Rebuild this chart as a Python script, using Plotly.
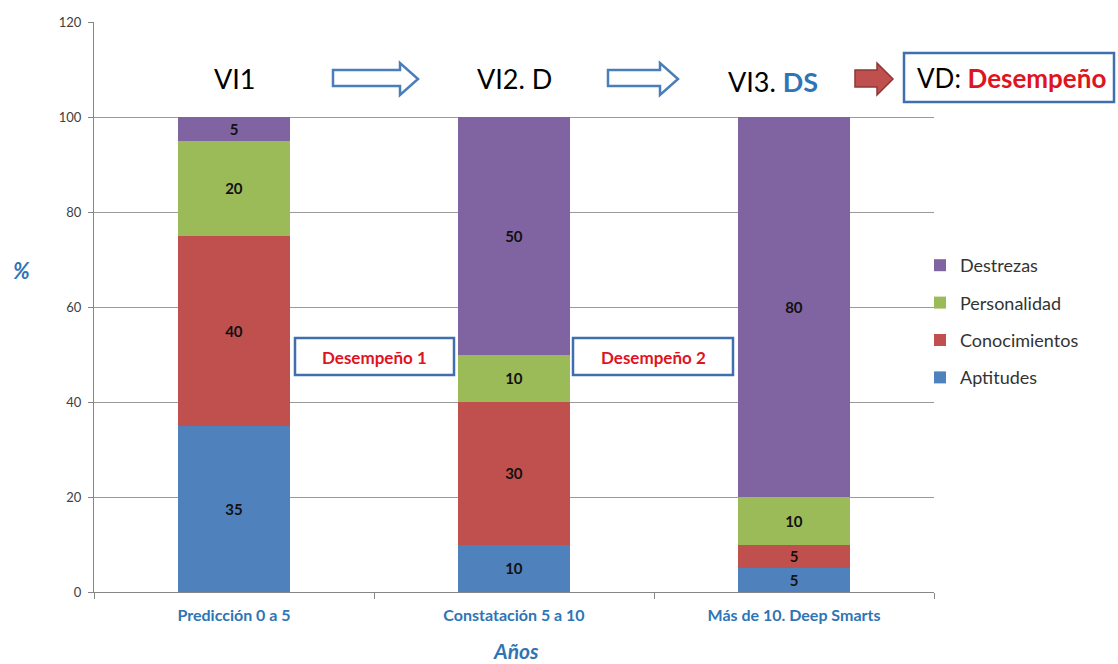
import plotly.graph_objects as go

# ---- data ----
categories = ["Predicción 0 a 5", "Constatación 5 a 10", "Más de 10. Deep Smarts"]
aptitudes = [35, 10, 5]
conocimientos = [40, 30, 5]
personalidad = [20, 10, 10]
destrezas = [5, 50, 80]
y_ticks = [0, 20, 40, 60, 80, 100, 120]

series = [
    ("Aptitudes", aptitudes, "#4F81BD"),
    ("Conocimientos", conocimientos, "#C0504D"),
    ("Personalidad", personalidad, "#9BBB59"),
    ("Destrezas", destrezas, "#8064A2"),
]

W, H = 1118, 664
L, R, T, B = 94, 934, 22, 592  # plot area in pixels
FONT = "Lato, 'Open Sans', sans-serif"
BLUE_TXT = "#2E75B6"


def px(x):
    return (x - L) / (R - L)


def py(y):
    return (B - y) / (B - T)


fig = go.Figure()
n = len(series)
for i, (name, vals, col) in enumerate(series):
    fig.add_trace(go.Bar(
        name=name, x=categories, y=vals,
        marker=dict(color=col, line=dict(width=0)),
        text=[str(v) for v in vals], textposition="inside", textangle=0,
        insidetextanchor="middle", constraintext="none",
        textfont=dict(family=FONT, size=15, color="#111111", weight="bold"),
        legendgroup=name, legendrank=n - i, hoverinfo="x+y+name",
    ))

shapes = []


def path(points):
    s = "M " + " L ".join(f"{px(a):.5f},{py(b):.5f}" for a, b in points) + " Z"
    return s


# hollow blue arrows
for x0, xh, xt in [(333, 400, 418), (608, 660, 678)]:
    pts = [(x0, 70), (xh, 70), (xh, 63), (xt, 79), (xh, 95), (xh, 86), (x0, 86)]
    shapes.append(dict(type="path", xref="paper", yref="paper", path=path(pts),
                       fillcolor="white", line=dict(color="#4A7EBB", width=2.5)))
# red filled arrow
pts = [(855, 70), (877, 70), (877, 63), (893, 79), (877, 95), (877, 87), (855, 87)]
shapes.append(dict(type="path", xref="paper", yref="paper", path=path(pts),
                   fillcolor="#C0504D", line=dict(color="#8C3836", width=1.5)))

# boxes
for (x0, y0, x1, y1) in [(904, 53, 1114, 102), (295, 338, 454, 375), (573, 338, 733, 375)]:
    shapes.append(dict(type="rect", xref="paper", yref="paper",
                       x0=px(x0), x1=px(x1), y0=py(y1), y1=py(y0),
                       fillcolor="white", line=dict(color="#3F6FAF", width=2.5)))

annotations = []


def ann(text, x, y, size, color="#000000", **kw):
    annotations.append(dict(text=text, x=px(x), y=py(y), xref="paper", yref="paper",
                            showarrow=False, xanchor="center", yanchor="middle",
                            font=dict(family=FONT, size=size, color=color), **kw))


ann("VI1", 235, 79, 27)
ann("VI2. D", 514, 79, 27)
ann(f"VI3. <b><span style='color:{BLUE_TXT}'>DS</span></b>", 773, 81, 27)
ann("VD: <b><span style='color:#E0141E'>Desempeño</span></b>", 1012, 78, 26)
ann("<b>Desempeño 1</b>", 374, 357, 17, "#E0141E")
ann("<b>Desempeño 2</b>", 653, 357, 17, "#E0141E")
ann("<b><i>%</i></b>", 21, 270, 22, BLUE_TXT)
ann("<b><i>Años</i></b>", 516, 650, 21, BLUE_TXT)

fig.update_layout(
    width=W, height=H,
    margin=dict(l=L, r=W - R, t=T, b=H - B, pad=0),
    barmode="stack", bargap=0.6,
    plot_bgcolor="white", paper_bgcolor="white",
    font=dict(family=FONT),
    shapes=shapes, annotations=annotations,
    legend=dict(x=px(920), y=py(247), xanchor="left", yanchor="top",
                traceorder="grouped", tracegroupgap=11,
                font=dict(family=FONT, size=18, color="#333333"),
                bgcolor="rgba(0,0,0,0)"),
    xaxis=dict(showline=True, linecolor="#868686", linewidth=1,
               ticks="outside", tickson="boundaries", ticklen=6, tickcolor="#868686",
               ticklabelstandoff=9,
               tickfont=dict(family=FONT, size=16, color=BLUE_TXT, weight="bold")),
    yaxis=dict(range=[0, 120], tickvals=y_ticks, showgrid=True, gridcolor="#9A9A9A",
               gridwidth=1, showline=True, linecolor="#868686", ticks="outside",
               ticklen=5, tickcolor="#868686", zeroline=False, ticklabelstandoff=4,
               tickfont=dict(family=FONT, size=13, color="#404040")),
)

fig.write_html("out.html")
